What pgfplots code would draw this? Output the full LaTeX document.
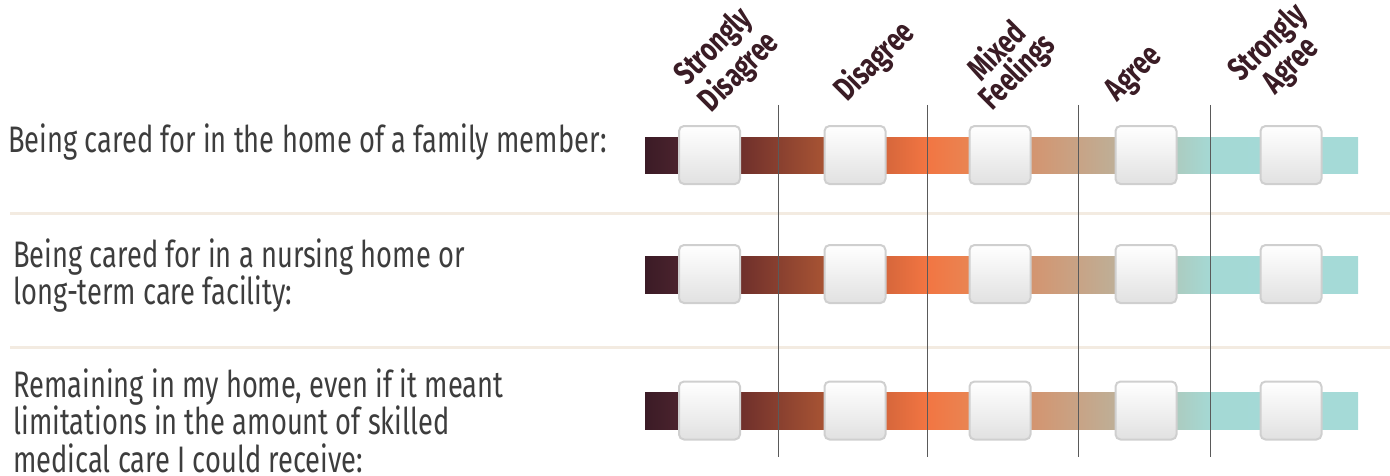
\documentclass[border=0pt]{standalone}
\usepackage{pgfplots}
\pgfplotsset{compat=1.18}
\usepackage{fontspec}
\setmainfont{Fira Sans}[FakeStretch=0.74]
\definecolor{txt}{HTML}{3D3D3D}
\definecolor{hd}{HTML}{3A1C25}
\definecolor{sep}{HTML}{F3EBE1}
\definecolor{vline}{HTML}{5A5A5A}
\definecolor{boxline}{HTML}{CFCFCF}
\definecolor{boxbot}{HTML}{E1E1E1}
\definecolor{g0}{HTML}{3B1B26}
\definecolor{g1}{HTML}{4B232D}
\definecolor{g2}{HTML}{6E2F2B}
\definecolor{g3}{HTML}{A85434}
\definecolor{g4}{HTML}{D5663B}
\definecolor{g5}{HTML}{F27542}
\definecolor{g6}{HTML}{E98553}
\definecolor{g7}{HTML}{D4946F}
\definecolor{g8}{HTML}{BEAF97}
\definecolor{g9}{HTML}{ACCBBF}
\definecolor{g10}{HTML}{A4D9D5}
\definecolor{g11}{HTML}{A5DAD7}
% one gradient segment: x0, x1, ytop, ybot, colour left, colour right
\newcommand\seg[6]{\addplot[draw=none, mark=none, left color=#5, right color=#6] coordinates {(#1,#3) (#2,#3) (#2,#4) (#1,#4)} -- cycle;}
\newcommand\gradrow[2]{%
\seg{645}{680}{#1}{#2}{g0}{g1}
\seg{679}{740}{#1}{#2}{g1}{g2}
\seg{739}{825}{#1}{#2}{g2}{g3}
\seg{824}{885}{#1}{#2}{g3}{g4}
\seg{884}{927}{#1}{#2}{g4}{g5}
\seg{926}{971}{#1}{#2}{g5}{g6}
\seg{970}{1031}{#1}{#2}{g6}{g7}
\seg{1030}{1116}{#1}{#2}{g7}{g8}
\seg{1115}{1176}{#1}{#2}{g8}{g9}
\seg{1175}{1212}{#1}{#2}{g9}{g10}
\seg{1211}{1358}{#1}{#2}{g10}{g11}
}
\begin{document}
\begin{tikzpicture}
\begin{axis}[
  width=695bp, height=238bp, scale only axis,
  xmin=0, xmax=1390, ymin=0, ymax=476, y dir=reverse,
  hide axis, clip=false,
]
% separators
\addplot[sep, line width=1.5bp, mark=none] coordinates {(10,213) (1390,213)};
\addplot[sep, line width=1.5bp, mark=none] coordinates {(10,347) (1390,347)};
% gradient bars
\gradrow{137}{173}
\gradrow{256}{293}
\gradrow{392}{429}
% vertical lines
\addplot[vline, line width=0.5bp, mark=none] coordinates {(778,105) (778,457)};
\addplot[vline, line width=0.5bp, mark=none] coordinates {(927,105) (927,457)};
\addplot[vline, line width=0.5bp, mark=none] coordinates {(1078,105) (1078,457)};
\addplot[vline, line width=0.5bp, mark=none] coordinates {(1210,105) (1210,457)};
% answer boxes
\addplot[draw=none, mark=none, nodes near coords={\mbox{}},
  every node near coord/.append style={anchor=center, minimum width=30.5bp, minimum height=29bp, inner sep=0pt,
    rounded corners=2.5bp, draw=boxline, line width=1bp, top color=white, bottom color=boxbot}]
  coordinates {(709.5,155) (855,155) (1000,155) (1146,155) (1291,155)
               (709.5,274) (855,274) (1000,274) (1146,274) (1291,274)
               (709.5,410.5) (855,410.5) (1000,410.5) (1146,410.5) (1291,410.5)};
% row labels
\begin{scope}[every node/.style={anchor=base west, inner sep=0pt, text=txt, font=\fontsize{18.5}{20}\selectfont}]
\node at (axis cs:8,152) {Being cared for in the home of a family member:};
\node at (axis cs:13,267) {Being cared for in a nursing home or};
\node at (axis cs:13,304) {long-term care facility:};
\node at (axis cs:13,397) {Remaining in my home, even if it meant};
\node at (axis cs:13,434) {limitations in the amount of skilled};
\node at (axis cs:13,472) {medical care I could receive:};
\end{scope}
% header labels
\begin{scope}[every node/.style={anchor=center, rotate=45, align=center, inner sep=0pt, text=hd, font=\fontsize{16.5}{14.5}\selectfont\bfseries}]
\node at (axis cs:727,60) {Strongly\\Disagree};
\node at (axis cs:875,62) {Disagree};
\node at (axis cs:1008,62) {Mixed\\Feelings};
\node at (axis cs:1135,75) {Agree};
\node at (axis cs:1280,55) {Strongly\\Agree};
\end{scope}
\end{axis}
\pgfresetboundingbox
\path (current axis.south west) rectangle (current axis.north east);
\end{tikzpicture}
\end{document}
